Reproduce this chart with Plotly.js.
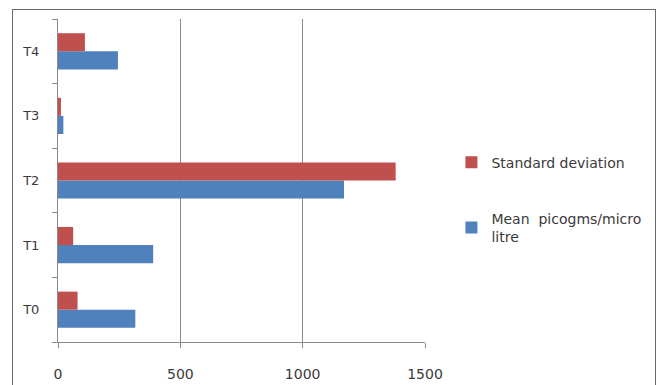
<!DOCTYPE html>
<html>
<head>
<meta charset="utf-8">
<script src="https://cdn.plot.ly/plotly-3.0.1.min.js"></script>
<style>
html,body{margin:0;padding:0;background:#fff;}
#chart{width:661px;height:385px;position:relative;}
#frame{position:absolute;left:12px;top:9px;width:642px;height:400px;border:1.5px solid #6a6a6a;pointer-events:none;}
</style>
</head>
<body>
<div id="chart"></div>
<div id="frame"></div>
<script>
var categories = ['T0', 'T1', 'T2', 'T3', 'T4'];
var meanValues = [316, 389, 1169, 22, 245];
var sdValues = [80, 62, 1380, 12, 110];
var meanName = 'Mean  picogms/micro<br>litre';
var sdName = 'Standard deviation';
var xTicks = [0, 500, 1000, 1500];

var font = {family: 'DejaVu Sans, sans-serif', size: 14, color: '#3a3a3a'};
var yFont = {family: 'DejaVu Sans, sans-serif', size: 13, color: '#3a3a3a'};

var traces = [
  {type: 'bar', orientation: 'h', name: meanName, y: categories, x: meanValues,
   marker: {color: '#4F81BD', line: {width: 0}}, legendgroup: 'a', legendrank: 2},
  {type: 'bar', orientation: 'h', name: sdName, y: categories, x: sdValues,
   marker: {color: '#C0504D', line: {width: 0}}, legendgroup: 'b', legendrank: 1}
];

var layout = {
  width: 661, height: 385,
  margin: {l: 58, r: 236, t: 19, b: 43},
  paper_bgcolor: 'rgba(0,0,0,0)', plot_bgcolor: '#fff',
  font: font,
  barmode: 'group',
  bargap: 0.44,
  bargroupgap: 0,
  showlegend: true,
  legend: {x: 1.072, y: 0.605, xanchor: 'left', yanchor: 'top',
           traceorder: 'grouped', tracegroupgap: 35,
           font: font, itemwidth: 30, bgcolor: 'rgba(0,0,0,0)'},
  xaxis: {range: [0, 1500], tickvals: xTicks, showgrid: true, gridcolor: '#8a8a8a', gridwidth: 1,
          zeroline: false, showline: true, linecolor: '#8a8a8a', linewidth: 1,
          ticks: 'outside', ticklen: 5, tickcolor: '#8a8a8a', ticklabelstandoff: 14,
          tickfont: font, fixedrange: true},
  yaxis: {type: 'category', categoryarray: categories, showgrid: false, zeroline: false,
          showline: true, linecolor: '#8a8a8a', linewidth: 1,
          ticks: 'outside', ticklen: 5, tickcolor: '#8a8a8a', tickson: 'boundaries',
          ticklabelstandoff: 15, tickfont: yFont, fixedrange: true}
};

Plotly.newPlot('chart', traces, layout, {displayModeBar: false, staticPlot: true});
</script>
</body>
</html>
